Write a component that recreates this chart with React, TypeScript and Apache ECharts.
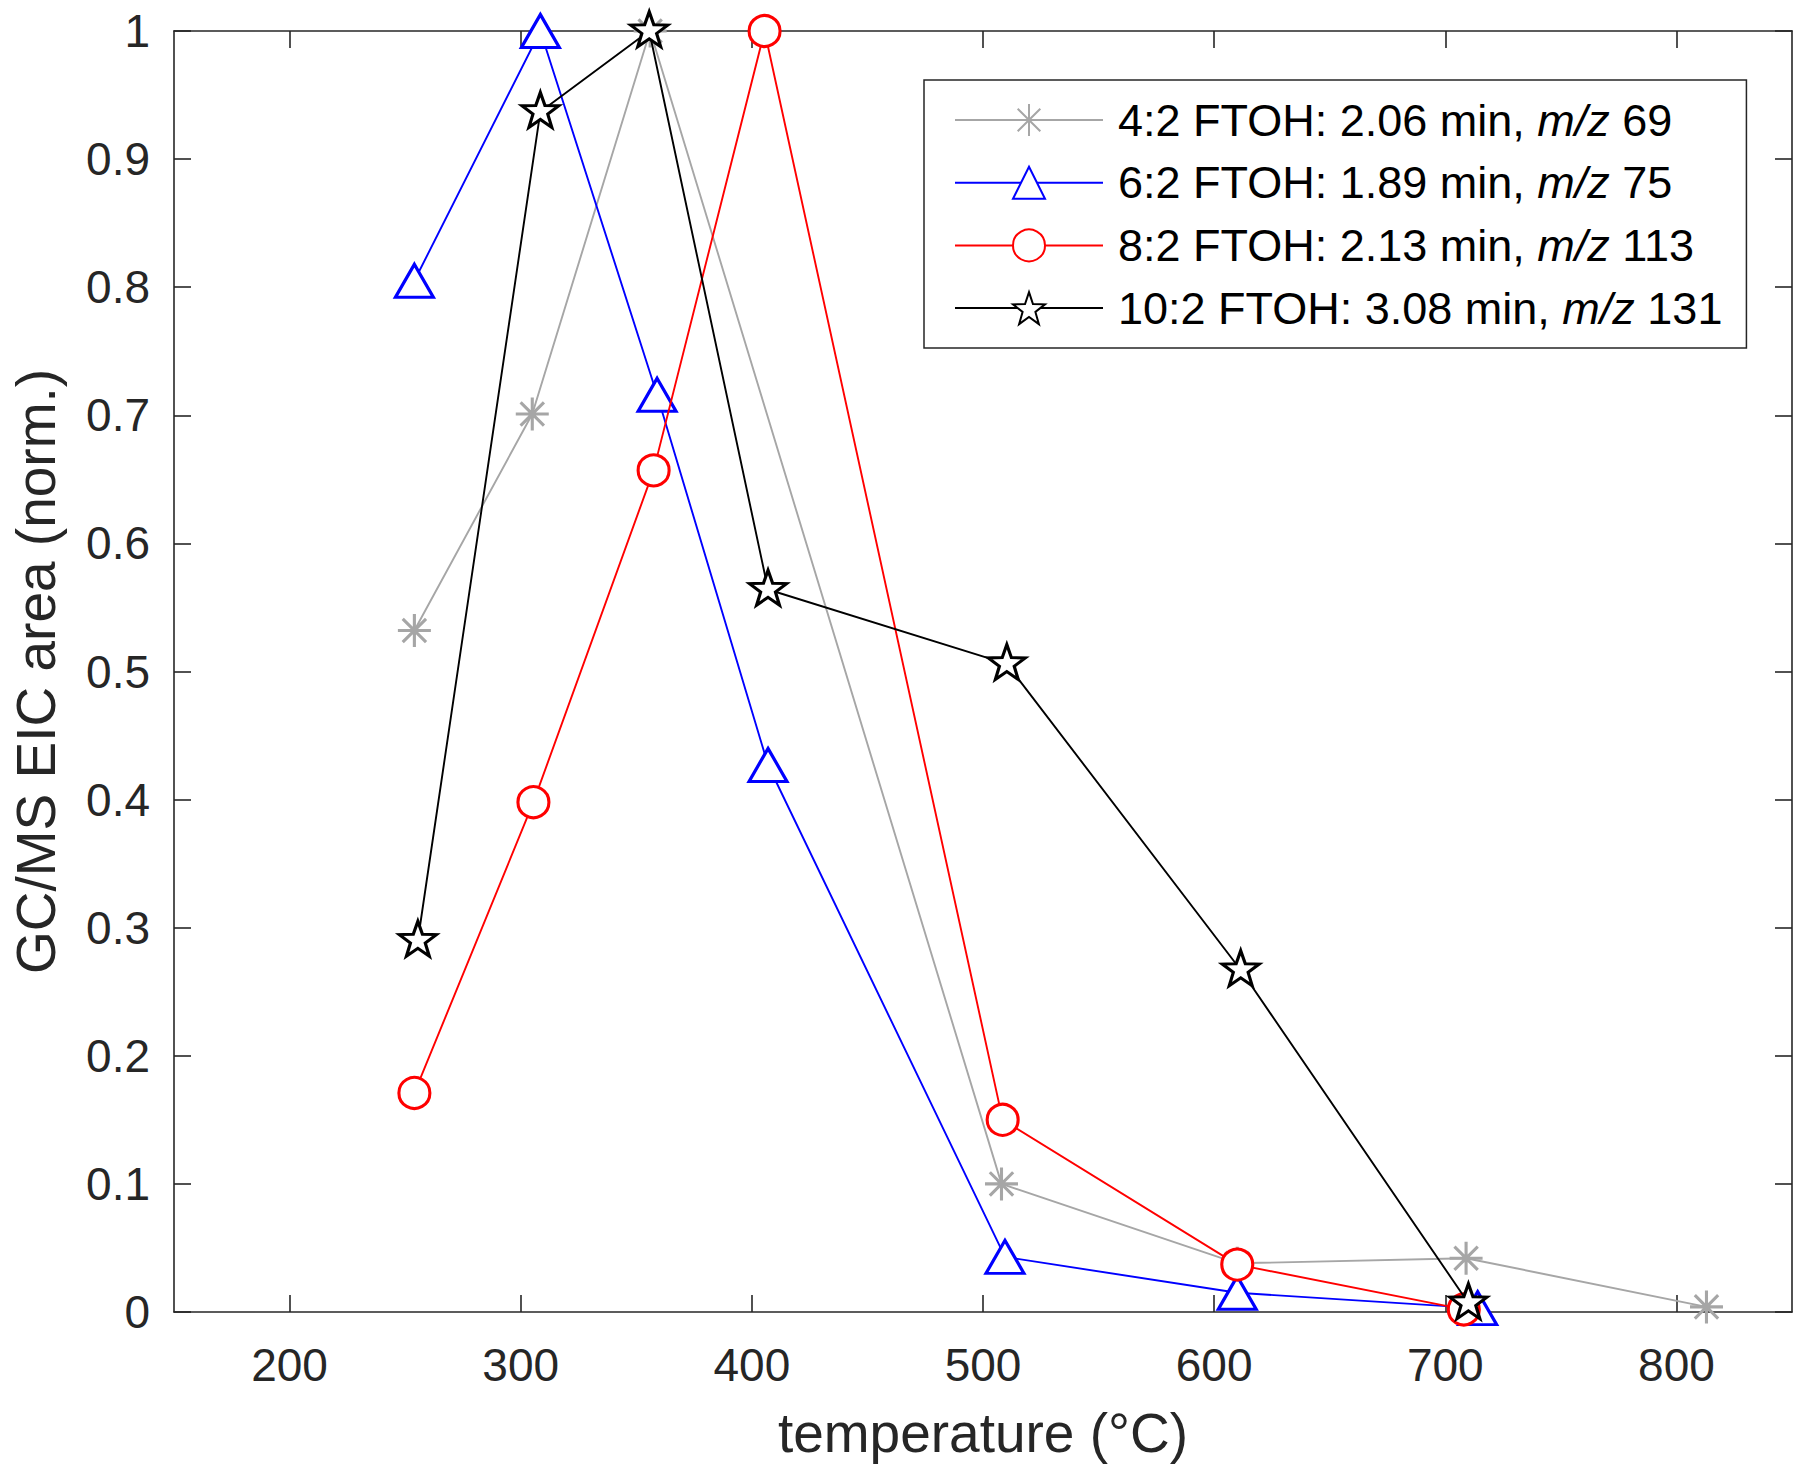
import React, { useEffect, useRef } from "react";
import * as echarts from "echarts";

// ---- Data ----
const xTicks = [200, 300, 400, 500, 600, 700, 800];

const ftoh42X = [254, 305, 356, 508, 610, 709, 813];
const ftoh42Y = [0.532, 0.701, 1.0, 0.1, 0.038, 0.042, 0.004];

const ftoh62X = [254, 308.5, 359, 407, 509.5, 610, 714];
const ftoh62Y = [0.805, 1.0, 0.716, 0.427, 0.043, 0.015, 0.003];

const ftoh82X = [254, 305.5, 357.5, 405.5, 508.5, 610, 708];
const ftoh82Y = [0.171, 0.398, 0.657, 1.0, 0.15, 0.037, 0.002];

const ftoh102X = [255.5, 308.5, 355.6, 407, 510.3, 611.5, 710];
const ftoh102Y = [0.29, 0.937, 1.0, 0.564, 0.506, 0.267, 0.007];

const seriesNames = [
  "4:2 FTOH: 2.06 min, m/z 69",
  "6:2 FTOH: 1.89 min, m/z 75",
  "8:2 FTOH: 2.13 min, m/z 113",
  "10:2 FTOH: 3.08 min, m/z 131",
];

const FONT = "'Liberation Sans', Arial, Helvetica, sans-serif";
const AXIS_COLOR = "#262626";

function starPath(): string {
  const pts: string[] = [];
  const R = 10;
  const r = R * 0.4;
  for (let i = 0; i < 10; i++) {
    const rad = i % 2 === 0 ? R : r;
    const a = (-90 + i * 36) * (Math.PI / 180);
    pts.push(`${(rad * Math.cos(a)).toFixed(3)},${(rad * Math.sin(a)).toFixed(3)}`);
  }
  return "path://M" + pts.join("L") + "Z";
}

const asteriskPath =
  "path://M0,-10L0,10M-10,0L10,0M-7.07,-7.07L7.07,7.07M-7.07,7.07L7.07,-7.07";

function pairs(xs: number[], ys: number[]) {
  return xs.map((x, i) => [x, ys[i]]);
}

export default function App() {
  const ref = useRef<HTMLDivElement>(null);

  useEffect(() => {
    if (!ref.current) return;
    const chart = echarts.init(ref.current, undefined, { renderer: "svg" });

    const baseX = {
      type: "value",
      min: 150,
      max: 850,
      splitLine: { show: false },
      axisLine: { show: true, onZero: false, lineStyle: { color: AXIS_COLOR, width: 1.6 } },
      axisTick: {
        show: true,
        inside: true,
        length: 17,
        customValues: xTicks,
        lineStyle: { color: AXIS_COLOR, width: 1.6 },
      },
    };
    const baseY = {
      type: "value",
      min: 0,
      max: 1,
      interval: 0.1,
      splitLine: { show: false },
      axisLine: { show: true, onZero: false, lineStyle: { color: AXIS_COLOR, width: 1.6 } },
      axisTick: {
        show: true,
        inside: true,
        length: 17,
        lineStyle: { color: AXIS_COLOR, width: 1.6 },
      },
    };

    const colors = ["#A6A6A6", "#0000FF", "#FF0000", "#000000"];
    const symbols = [asteriskPath, "triangle", "circle", starPath()];
    const sizes: any[] = [[33, 33], [38, 33], [31, 31], [37, 35]];
    const offsets: any[] = [[0, 0], [0, 0], [0, 0], [0, -1.8]];
    const datas = [
      pairs(ftoh42X, ftoh42Y),
      pairs(ftoh62X, ftoh62Y),
      pairs(ftoh82X, ftoh82Y),
      pairs(ftoh102X, ftoh102Y),
    ];

    const series = seriesNames.map((name, i) => ({
      name,
      type: "line",
      xAxisIndex: 0,
      yAxisIndex: 0,
      data: datas[i],
      clip: false,
      symbol: symbols[i],
      symbolSize: sizes[i],
      symbolOffset: offsets[i],
      showAllSymbol: true,
      lineStyle: { color: colors[i], width: 1.9 },
      itemStyle: {
        color: "#FFFFFF",
        borderColor: colors[i],
        borderWidth: 3.1,
      },
      emphasis: { disabled: true },
      z: 2 + i,
    }));

    const option: any = {
      animation: false,
      backgroundColor: "#FFFFFF",
      textStyle: { fontFamily: FONT },
      grid: { left: 169, right: 8, top: 31, bottom: 167, containLabel: false },
      xAxis: [
        {
          ...baseX,
          position: "bottom",
          name: "temperature (°C)",
          nameLocation: "middle",
          nameGap: 93,
          nameTextStyle: { fontSize: 55, color: AXIS_COLOR, fontFamily: FONT },
          axisLabel: {
            show: true,
            customValues: xTicks,
            margin: 30,
            fontSize: 46,
            color: AXIS_COLOR,
            fontFamily: FONT,
          },
        },
        {
          ...baseX,
          position: "top",
          axisLabel: { show: false },
        },
      ],
      yAxis: [
        {
          ...baseY,
          position: "left",
          name: "GC/MS EIC area (norm.)",
          nameLocation: "middle",
          nameGap: 111,
          nameTextStyle: { fontSize: 55, color: AXIS_COLOR, fontFamily: FONT },
          axisLabel: {
            show: true,
            margin: 24,
            fontSize: 46,
            color: AXIS_COLOR,
            fontFamily: FONT,
            formatter: (v: number) => String(parseFloat(v.toFixed(1))),
          },
        },
        {
          ...baseY,
          position: "right",
          axisLabel: { show: false },
        },
      ],
      legend: {
        show: true,
        orient: "vertical",
        left: 924,
        top: 80,
        padding: [17, 24, 17, 30],
        itemWidth: 148,
        itemHeight: 40,
        itemGap: 16.7,
        backgroundColor: "#FFFFFF",
        borderColor: AXIS_COLOR,
        borderWidth: 1.5,
        borderRadius: 0,
        data: seriesNames,
        formatter: (name: string) => name.replace("m/z", "{i|m/z}"),
        textStyle: {
          fontSize: 45,
          color: "#000000",
          fontFamily: FONT,
          lineHeight: 46,
          padding: [0, 0, 0, 10],
          rich: {
            i: { fontSize: 45, fontStyle: "italic", color: "#000000", fontFamily: FONT, lineHeight: 46 },
          },
        },
      },
      series,
    };

    chart.setOption(option);
    return () => chart.dispose();
  }, []);

  return (
    <div
      ref={ref}
      style={{ position: "fixed", left: 0, top: 0, width: 1800, height: 1479, background: "#fff" }}
    />
  );
}
